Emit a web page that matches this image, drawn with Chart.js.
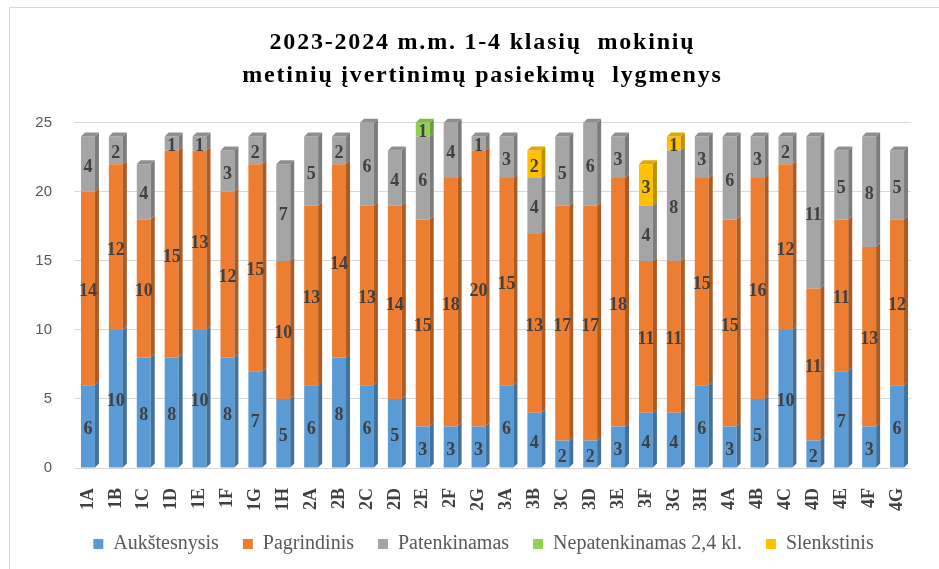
<!DOCTYPE html>
<html><head><meta charset="utf-8">
<script src="https://cdn.jsdelivr.net/npm/chart.js@4.4.0/dist/chart.umd.min.js"></script>
<style>
html,body{margin:0;padding:0;background:#fff;}
#wrap{position:relative;width:939px;height:569px;overflow:hidden;}
#frame{position:absolute;left:9px;top:7px;width:940px;height:570px;border-left:1px solid #d9d9d9;border-top:1px solid #d9d9d9;}
canvas{position:absolute;left:0;top:0;}
</style></head><body>
<div id="wrap"><div id="frame"></div><canvas id="c" width="939" height="569"></canvas></div>
<script>
const categories = ['1A','1B','1C','1D','1E','1F','1G','1H','2A','2B','2C','2D','2E','2F','2G','3A','3B','3C','3D','3E','3F','3G','3H','4A','4B','4C','4D','4E','4F','4G'];
const aukstesnysis = [6,10,8,8,10,8,7,5,6,8,6,5,3,3,3,6,4,2,2,3,4,4,6,3,5,10,2,7,3,6];
const pagrindinis  = [14,12,10,15,13,12,15,10,13,14,13,14,15,18,20,15,13,17,17,18,11,11,15,15,16,12,11,11,13,12];
const patenkinamas = [4,2,4,1,1,3,2,7,5,2,6,4,6,4,1,3,4,5,6,3,4,8,3,6,3,2,11,5,8,5];
const nepatenkinamas = [0,0,0,0,0,0,0,0,0,0,0,0,1,0,0,0,0,0,0,0,0,0,0,0,0,0,0,0,0,0];
const slenkstinis  = [0,0,0,0,0,0,0,0,0,0,0,0,0,0,0,0,2,0,0,0,3,1,0,0,0,0,0,0,0,0];
const seriesNames = ['Aukštesnysis','Pagrindinis','Patenkinamas','Nepatenkinamas 2,4 kl.','Slenkstinis'];
const yTicks = [0,5,10,15,20,25];
const titleLines = ['2023-2024 m.m. 1-4 klasių  mokinių','metinių įvertinimų pasiekimų  lygmenys'];

const frontColors = ['#5B9BD5','#ED7D31','#A5A5A5','#92D050','#FFC000'];
const sideColors  = ['#41719C','#AE5A21','#7C7C7C','#6E9C3C','#BF9000'];
const topColors   = ['#4E88BF','#CF6B28','#8F8F8F','#80BA45','#E0A800'];
const DEPTH = 4;

const bar3d = {
  id: 'bar3d',
  afterDatasetsDraw(chart) {
    const ctx = chart.ctx;
    const ds = chart.data.datasets;
    const n = chart.data.labels.length;
    ctx.save();
    for (let j = 0; j < n; j++) {
      let topIdx = -1;
      ds.forEach((d, i) => { if (d.data[j] > 0) topIdx = i; });
      ds.forEach((d, i) => {
        if (!(d.data[j] > 0)) return;
        const el = chart.getDatasetMeta(i).data[j];
        const {x, y, base, width} = el.getProps(['x','y','base','width'], true);
        const l = x - width / 2, r = x + width / 2;
        ctx.fillStyle = sideColors[i];
        ctx.beginPath();
        ctx.moveTo(r, y); ctx.lineTo(r + DEPTH, y - DEPTH);
        ctx.lineTo(r + DEPTH, base - DEPTH); ctx.lineTo(r, base);
        ctx.closePath(); ctx.fill();
        if (i === topIdx) {
          ctx.fillStyle = topColors[i];
          ctx.beginPath();
          ctx.moveTo(l, y); ctx.lineTo(l + DEPTH, y - DEPTH);
          ctx.lineTo(r + DEPTH, y - DEPTH); ctx.lineTo(r, y);
          ctx.closePath(); ctx.fill();
        }
      });
    }
    ctx.font = 'bold 18px "Liberation Serif"';
    ctx.fillStyle = '#404040';
    ctx.textAlign = 'center';
    ctx.textBaseline = 'middle';
    ds.forEach((d, i) => {
      chart.getDatasetMeta(i).data.forEach((el, j) => {
        const v = d.data[j];
        if (!(v > 0)) return;
        const {x, y, base} = el.getProps(['x','y','base'], true);
        ctx.fillText(String(v), x, (y + base) / 2 + 3);
      });
    });
    ctx.restore();
  }
};

const seriesData = [aukstesnysis, pagrindinis, patenkinamas, nepatenkinamas, slenkstinis];

const chart = new Chart(document.getElementById('c'), {
  type: 'bar',
  data: {
    labels: categories,
    datasets: seriesData.map((arr, i) => ({
      label: seriesNames[i],
      data: arr,
      backgroundColor: frontColors[i],
      borderWidth: 0,
      barPercentage: 0.5,
      categoryPercentage: 1.0
    }))
  },
  options: {
    responsive: false,
    animation: false,
    devicePixelRatio: 1,
    layout: { padding: { left: 10, right: 28, top: 0, bottom: 1 } },
    plugins: {
      title: {
        display: true,
        text: titleLines,
        color: '#000000',
        font: { family: '"Liberation Serif"', size: 24, weight: 'bold', lineHeight: 1.35 },
        padding: { top: 27, bottom: 31 }
      },
      legend: {
        position: 'bottom',
        labels: {
          boxWidth: 10, boxHeight: 10,
          padding: 24,
          color: '#595959',
          font: { family: '"Liberation Serif"', size: 20 }
        }
      },
      tooltip: { enabled: false }
    },
    scales: {
      x: {
        stacked: true,
        grid: { display: false },
        border: { display: false },
        ticks: {
          color: '#404040',
          font: { family: '"Liberation Serif"', size: 18, weight: 'bold' },
          minRotation: 90, maxRotation: 90,
          padding: 12, autoSkip: false
        },
        afterFit(s) { s.height = 46; }
      },
      y: {
        stacked: true,
        min: 0, max: 25,
        afterBuildTicks(s) { s.ticks = yTicks.map(v => ({ value: v })); },
        grid: { color: '#d9d9d9', lineWidth: 1, drawTicks: false },
        border: { display: false },
        ticks: {
          color: '#595959',
          font: { family: '"Liberation Sans"', size: 15 },
          padding: 22
        },
        afterFit(s) { s.width = 64; }
      }
    }
  },
  plugins: [bar3d]
});

// title: expanded character spacing and offset centre, as in the reference
const tb = chart.titleBlock;
if (tb) {
  const origDraw = tb.draw;
  tb.draw = function (...args) {
    const c = this.ctx;
    c.save();
    c.translate(22, 0);
    c.letterSpacing = '1.8px';
    origDraw.apply(this, args);
    c.restore();
  };
}
const lg = chart.legend;
if (lg) {
  const origLg = lg.draw;
  lg.draw = function (...args) {
    const c = this.ctx;
    c.save();
    c.translate(23, -4);
    origLg.apply(this, args);
    c.restore();
  };
}
chart.draw();
</script>
</body></html>
